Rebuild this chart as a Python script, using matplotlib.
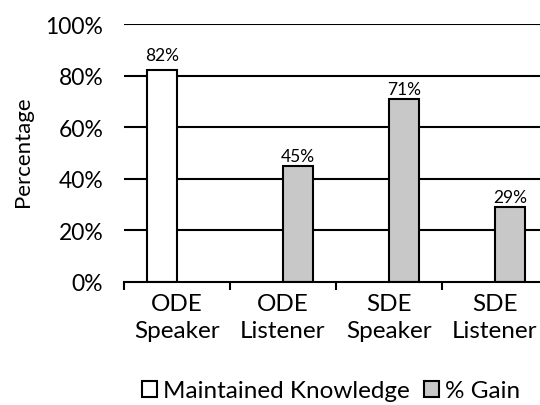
import matplotlib
matplotlib.use("Agg")
import matplotlib.pyplot as plt
from matplotlib.patches import Patch
import numpy as np

categories = ["ODE\nSpeaker", "ODE\nListener", "SDE\nSpeaker", "SDE\nListener"]
maintained = [82, None, None, None]
gain = [None, 45, 71, 29]
yticks = [0, 20, 40, 60, 80, 100]
ytick_labels = ["0%", "20%", "40%", "60%", "80%", "100%"]
series_names = ["Maintained Knowledge", "% Gain"]

plt.rcParams['font.family'] = ['Lato', 'DejaVu Sans']

fig = plt.figure(figsize=(5.4, 4.06), dpi=100)
ax = fig.add_axes([124/540, 123/406, 424/540, 258/406])

x = np.arange(len(categories))
w = 0.28
lw = 1.5
for i, v in enumerate(maintained):
    if v is not None:
        ax.bar(x[i] - w/2, v, w, color="white", edgecolor="black", linewidth=lw, zorder=3)
        ax.annotate(f"{v}%", (x[i] - w/2, v), xytext=(0, 5), textcoords="offset points",
                    ha="center", va="bottom", fontsize=12.5)
for i, v in enumerate(gain):
    if v is not None:
        ax.bar(x[i] + w/2, v, w, color="#c8c8c8", edgecolor="black", linewidth=lw, zorder=3)
        ax.annotate(f"{v}%", (x[i] + w/2, v), xytext=(0, 1.5), textcoords="offset points",
                    ha="center", va="bottom", fontsize=12.5)

ax.set_xlim(-0.5, 3.5)
ax.set_ylim(0, 100)
ax.set_yticks(yticks)
ax.set_yticklabels(ytick_labels, fontsize=16.5)
ax.tick_params(axis="y", length=0, pad=15)
for y in yticks[1:]:
    ax.axhline(y, color="black", linewidth=lw, zorder=1)

ax.set_xticks(x)
ax.set_xticklabels(categories, fontsize=17.5, linespacing=1.32)
ax.set_xticks(np.arange(-0.5, 4, 1), minor=True)
ax.tick_params(axis="x", which="major", length=0, pad=8)
ax.tick_params(axis="x", which="minor", length=6, width=lw, direction="out")

for s in ["left", "right", "top"]:
    ax.spines[s].set_visible(False)
ax.spines["bottom"].set_linewidth(lw)
ax.spines["bottom"].set_zorder(4)

ax.set_ylabel("Percentage", fontsize=16)
ax.yaxis.set_label_coords(-0.215, 0.51)

handles = [Patch(facecolor="white", edgecolor="black", linewidth=1.5),
           Patch(facecolor="#c8c8c8", edgecolor="black", linewidth=1.5)]
fig.legend(handles, series_names, loc="center", bbox_to_anchor=(331/540, 1 - 392/406),
           ncol=2, frameon=False, fontsize=17.5, handlelength=0.6, handleheight=0.6,
           handletextpad=0.25, columnspacing=0.6, borderaxespad=0)

fig.savefig("out.png", dpi=100)
